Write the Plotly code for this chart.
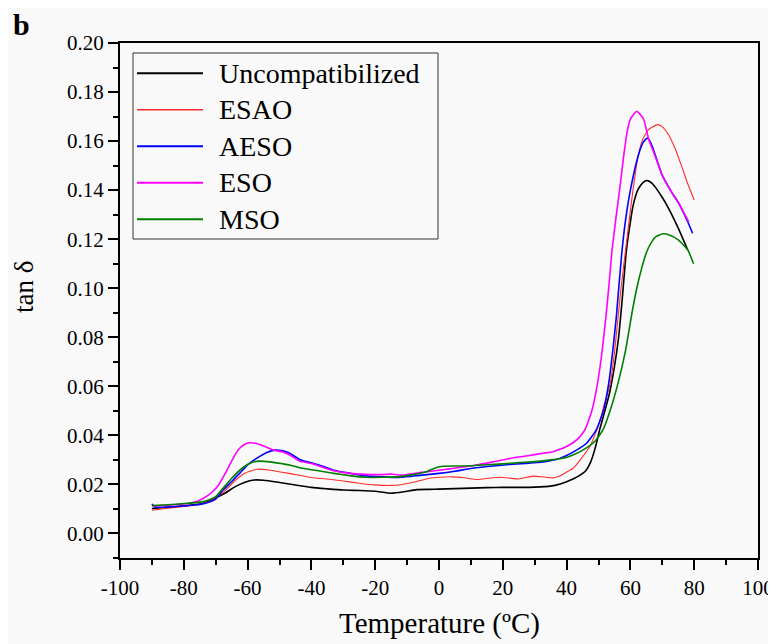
import plotly.graph_objects as go

# tan delta vs temperature
t_unc = [-90, -85, -80, -75, -72, -70, -67, -64, -61, -58, -55, -50, -45, -40, -35, -30, -25, -20, -15,
         -11, -7, -3, 0, 5, 10, 15, 20, 25, 30, 35, 38, 40, 42, 44, 46, 47.5, 49, 50.5, 52, 53.5, 55,
         56.3, 57.4, 58.8, 60.8, 62.4, 64, 65.3, 67, 70, 72, 75, 78]
y_unc = [0.0102, 0.0107, 0.0113, 0.0120, 0.0132, 0.0145, 0.0165, 0.0190, 0.0208, 0.0218, 0.0217, 0.0208,
         0.0198, 0.0188, 0.0182, 0.0177, 0.0175, 0.0172, 0.0164, 0.0170, 0.0179, 0.0180, 0.0181, 0.0183,
         0.0185, 0.0187, 0.0188, 0.0188, 0.0189, 0.0193, 0.0202, 0.0211, 0.0222, 0.0236, 0.0256, 0.0290,
         0.0350, 0.0430, 0.0500, 0.0575, 0.0680, 0.0800, 0.0950, 0.1160, 0.1334, 0.1403, 0.1432, 0.1439,
         0.1425, 0.1370, 0.1325, 0.1245, 0.1155]

t_esao = [-90, -85, -80, -75, -72, -70, -67, -64, -61, -57, -53, -47, -40, -35, -30, -25, -20, -15, -12,
          -7, -3, 0, 4, 8, 12, 16, 19, 22, 25, 29.5, 33, 36, 38, 40, 42, 44, 46, 47.5, 48.5, 50.2, 51.9,
          53.7, 55.1, 57, 58.5, 60.8, 62.4, 63.8, 65.6, 68.5, 70, 72, 74, 76, 78, 80]
y_esao = [0.0095, 0.0103, 0.0110, 0.0118, 0.0130, 0.0145, 0.0175, 0.0215, 0.0245, 0.0262, 0.0258, 0.0245,
          0.0228, 0.0222, 0.0214, 0.0205, 0.0198, 0.0196, 0.0199, 0.0212, 0.0225, 0.0229, 0.0231, 0.0227,
          0.0220, 0.0226, 0.0229, 0.0226, 0.0222, 0.0234, 0.0230, 0.0227, 0.0235, 0.0251, 0.0265, 0.0295,
          0.0330, 0.0360, 0.0390, 0.0450, 0.0530, 0.0612, 0.0748, 0.0994, 0.1157, 0.1400, 0.1538, 0.1605,
          0.1646, 0.1667, 0.1658, 0.1625, 0.1570, 0.1500, 0.1425, 0.1360]

t_aeso = [-90, -89, -85, -80, -75, -72, -70, -67.7, -65, -62.5, -60, -57.2, -54, -51.5, -49, -46.8, -43.7,
          -40, -36, -33, -28, -23, -18, -12, -6, 0, 5, 10, 17, 22, 27, 32.6, 37.8, 40, 43.1, 46.2, 49.3,
          51.6, 53.2, 54.5, 55.6, 56.3, 57.4, 58.5, 60, 62.4, 64, 65.3, 66.5, 68, 70, 73, 75, 78, 79.5]
y_aeso = [0.0120, 0.0108, 0.0108, 0.0112, 0.0118, 0.0128, 0.0140, 0.0177, 0.0212, 0.0245, 0.0280, 0.0306,
          0.0330, 0.0340, 0.0337, 0.0327, 0.0302, 0.0288, 0.0272, 0.0258, 0.0246, 0.0235, 0.0231, 0.0229,
          0.0237, 0.0245, 0.0254, 0.0265, 0.0275, 0.0281, 0.0286, 0.0292, 0.0306, 0.0318, 0.0340, 0.0367,
          0.0422, 0.0503, 0.0612, 0.0748, 0.0884, 0.0994, 0.1157, 0.1280, 0.1400, 0.1538, 0.1595, 0.1612,
          0.1590, 0.1535, 0.1460, 0.1390, 0.1350, 0.1270, 0.1224]

t_eso = [-90, -85, -80, -77, -75, -73, -71, -69, -67, -65, -63, -61, -59.3, -57, -54, -52, -49,
         -46.8, -43.7, -40, -36, -33, -28, -23, -18, -15, -12, -6, 0, 6.5, 11.7, 16.9, 22.2, 27.4, 32.6,
         35.7, 37.8, 40, 42, 44, 45.7, 47.8, 49.6, 51.1, 52.3, 53.3, 54.2, 55.4, 56.7, 58, 59, 60, 61.9,
         63, 64.2, 65.8, 68, 70, 73, 75, 78.3]
y_eso = [0.0112, 0.0115, 0.0120, 0.0127, 0.0136, 0.0150, 0.0170, 0.0200, 0.0245, 0.0295, 0.0340, 0.0363,
         0.0370, 0.0366, 0.0352, 0.0340, 0.0332, 0.0320, 0.0295, 0.0285, 0.0268, 0.0256, 0.0245, 0.0241,
         0.0240, 0.0242, 0.0238, 0.0248, 0.0258, 0.0269, 0.0279, 0.0292, 0.0306, 0.0316, 0.0327, 0.0333,
         0.0343, 0.0355, 0.0370, 0.0392, 0.0422, 0.0495, 0.0605, 0.0740, 0.0880, 0.1015, 0.1150, 0.1280,
         0.1410, 0.1550, 0.1640, 0.1690, 0.1721, 0.1710, 0.1687, 0.1605, 0.1530, 0.1460, 0.1390, 0.1350,
         0.1270]

t_mso = [-90, -85, -80, -75, -72, -70, -67.7, -65, -61.4, -58.5, -56.2, -53, -49, -46.8, -43.7, -40.5, -36,
         -33, -28, -23, -18, -12.3, -8, -4.2, -1, 1.3, 5, 10, 15, 20, 25, 30, 35, 39.9, 42, 45.1, 48.8,
         51.4, 53.7, 56.1, 58.5, 60.5, 62, 63.5, 65, 66.5, 68, 70.2, 72, 75, 78, 79.8]
y_mso = [0.0114, 0.0117, 0.0122, 0.0128, 0.0138, 0.0150, 0.0184, 0.0225, 0.0269, 0.0290, 0.0295, 0.0292,
         0.0284, 0.0279, 0.0268, 0.0261, 0.0252, 0.0245, 0.0236, 0.0229, 0.0229, 0.0232, 0.0240, 0.0251,
         0.0268, 0.0274, 0.0275, 0.0276, 0.0280, 0.0284, 0.0289, 0.0293, 0.0300, 0.0310, 0.0320, 0.0340,
         0.0375, 0.0422, 0.0503, 0.0612, 0.0748, 0.0900, 0.1000, 0.1080, 0.1145, 0.1185, 0.1210, 0.1222,
         0.1218, 0.1197, 0.1156, 0.1100]

x_ticks = [-100, -80, -60, -40, -20, 0, 20, 40, 60, 80, 100]
x_tick_labels = ["-100", "-80", "-60", "-40", "-20", "0", "20", "40", "60", "80", "100"]

series = [
    ("Uncompatibilized", t_unc, y_unc, "#000000", 1.6),
    ("ESAO", t_esao, y_esao, "#ff2a2a", 1.1),
    ("AESO", t_aeso, y_aeso, "#0000ff", 1.6),
    ("ESO", t_eso, y_eso, "#ff00ff", 1.6),
    ("MSO", t_mso, y_mso, "#008000", 1.6),
]

FONT = "Liberation Serif"
BG = "#f9f9f9"

# the page body has an 8px margin, so the figure is a bit smaller than the window
W, H = 768, 636
ML, MR, MT, MB = 112, 18, 35, 86
PW, PH = W - ML - MR, H - MT - MB
OFF = 8


def px(x):  # page pixel -> paper x
    return (x - OFF - ML) / PW


def py(y):  # page pixel -> paper y
    return (H - MB + OFF - y) / PH


fig = go.Figure()
for name, t, y, col, w in series:
    fig.add_trace(go.Scatter(x=t, y=y, mode="lines", name=name, showlegend=False,
                             line=dict(color=col, width=w, shape="spline", smoothing=0.5)))

axis_common = dict(showline=True, linecolor="black", linewidth=2, mirror=True,
                   ticks="outside", ticklen=10, tickwidth=2, tickcolor="black",
                   showgrid=False, zeroline=False,
                   tickfont=dict(family=FONT, size=21, color="black"))

fig.update_xaxes(range=[-100, 100], tickvals=x_ticks, ticktext=x_tick_labels,
                 minor=dict(dtick=10, ticks="outside", ticklen=5, tickwidth=2, tickcolor="black"),
                 **axis_common)
fig.update_yaxes(range=[-0.01, 0.20], dtick=0.02, tick0=0, tickformat=".2f",
                 minor=dict(dtick=0.01, ticks="outside", ticklen=5, tickwidth=2, tickcolor="black"),
                 **axis_common)

fig.update_layout(
    width=W, height=H,
    margin=dict(l=ML, r=MR, t=MT, b=MB, autoexpand=False),
    paper_bgcolor=BG, plot_bgcolor=BG,
    font=dict(family=FONT, color="black"),
    showlegend=False,
)

# hand-made legend box to match the long line samples of the original
fig.add_shape(type="rect", xref="paper", yref="paper",
              x0=px(133), x1=px(438), y0=py(239), y1=py(53),
              line=dict(color="#333333", width=1), fillcolor=BG, layer="above")
for i, (name, t, y, col, w) in enumerate(series):
    yy = py(73.3 + 36.5 * i)
    fig.add_shape(type="line", xref="paper", yref="paper", x0=px(137), x1=px(203), y0=yy, y1=yy,
                  line=dict(color=col, width=w + 0.4), layer="above")
    fig.add_annotation(text=name, xref="paper", yref="paper", x=px(217), y=yy,
                       xanchor="left", yanchor="middle", showarrow=False,
                       font=dict(family=FONT, size=28, color="black"))

fig.add_annotation(text="<b>b</b>", xref="paper", yref="paper", x=px(21), y=py(25),
                   xanchor="center", yanchor="middle", showarrow=False,
                   font=dict(family=FONT, size=30, color="black"))
fig.add_annotation(text="tan δ", xref="paper", yref="paper", x=px(24), y=py(287),
                   textangle=-90, xanchor="center", yanchor="middle", showarrow=False,
                   font=dict(family=FONT, size=27, color="black"))
fig.add_annotation(text="Temperature (ºC)", xref="paper", yref="paper", x=0.5, y=py(642),
                   xanchor="center", yanchor="bottom", showarrow=False,
                   font=dict(family=FONT, size=29, color="black"))

fig.write_html("out.html")
